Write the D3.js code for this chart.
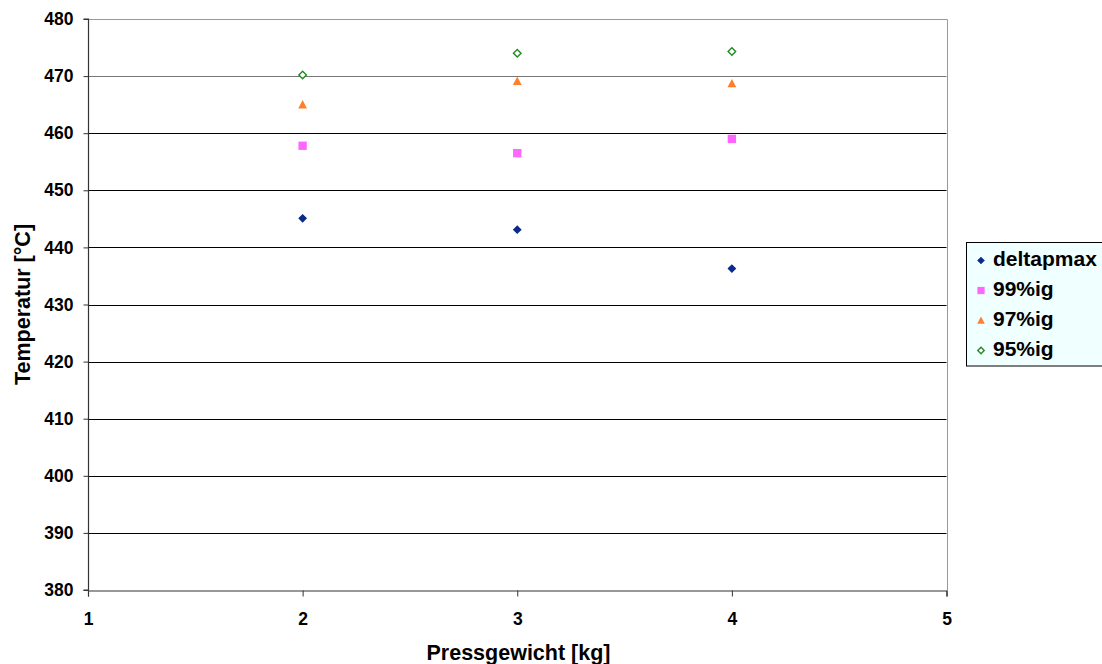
<!DOCTYPE html>
<html>
<head>
<meta charset="utf-8">
<script src="https://cdn.jsdelivr.net/npm/d3@7"></script>
<style>
  html, body { margin: 0; padding: 0; background: #fff; }
  text { font-family: "Liberation Sans", Arial, sans-serif; font-weight: bold; }
</style>
</head>
<body>
<svg id="chart" width="1102" height="664"></svg>
<script>
// Pressgewicht (kg) on the x axis
const pressgewicht = [2, 3, 4];

// Temperatures per criterion
const deltapmax = [445.1, 443.1, 436.3];
const ig99 = [457.8, 456.5, 459.0];
const ig97 = [465.0, 469.1, 468.7];
const ig95 = [470.2, 474.0, 474.3];

const seriesNames = ["deltapmax", "99%ig", "97%ig", "95%ig"];
const xTicks = [1, 2, 3, 4, 5];
const yTicks = [380, 390, 400, 410, 420, 430, 440, 450, 460, 470, 480];

const series = [
  { name: seriesNames[0], values: deltapmax, color: "#0a2a8c", shape: "diamond" },
  { name: seriesNames[1], values: ig99, color: "#ff66ff", shape: "square" },
  { name: seriesNames[2], values: ig97, color: "#ff7f2a", shape: "triangle" },
  { name: seriesNames[3], values: ig95, color: "#228b22", shape: "diamondOpen" }
];

const svg = d3.select("#chart");
const plot = { left: 88, right: 946.5, top: 19, bottom: 590 };

const x = d3.scaleLinear().domain([1, 5]).range([plot.left, plot.right]);
const y = d3.scaleLinear().domain([380, 480]).range([plot.bottom, plot.top]);

// Horizontal gridlines
svg.append("g").selectAll("line").data(yTicks.slice(1)).join("line")
  .attr("x1", plot.left).attr("x2", plot.right)
  .attr("y1", d => Math.round(y(d)) + 0.5).attr("y2", d => Math.round(y(d)) + 0.5)
  .attr("stroke", d => d >= 470 ? "#777" : "#000")
  .attr("stroke-width", 1);

// Top and right frame of the plot area
svg.append("path")
  .attr("d", `M${plot.left},${Math.round(plot.top) + 0.5}H${Math.round(plot.right) + 0.5}V${plot.bottom}`)
  .attr("fill", "none").attr("stroke", "#8c9ab4").attr("stroke-width", 1);

// Axes
const yAxis = d3.axisLeft(y).tickValues(yTicks).tickSize(5).tickPadding(10).tickFormat(d3.format("d"));
const xAxis = d3.axisBottom(x).tickValues(xTicks).tickSize(6).tickPadding(16).tickFormat(d3.format("d"));

const gy = svg.append("g").attr("transform", `translate(${plot.left + 0.5},0)`).call(yAxis);
const gx = svg.append("g").attr("transform", `translate(0,${plot.bottom + 0.5})`).call(xAxis);

[gx, gy].forEach(g => {
  g.attr("font-size", null).attr("font-family", null);
  g.select(".domain").attr("stroke", "#333").attr("stroke-width", 1.2);
  g.selectAll(".tick line").attr("stroke", "#333");
  g.selectAll(".tick text").attr("fill", "#000").style("font-size", "17.5px");
});
gy.select(".domain").attr("d", `M-5,${plot.bottom}H0V${plot.top}H-5`);

// Axis titles
svg.append("text")
  .attr("x", 518.5).attr("y", 660)
  .attr("text-anchor", "middle").style("font-size", "21.5px")
  .text("Pressgewicht [kg]");

svg.append("text")
  .attr("transform", `translate(30,${(plot.top + plot.bottom) / 2}) rotate(-90)`)
  .attr("text-anchor", "middle").style("font-size", "21.5px")
  .text("Temperatur [°C]");

// Marker drawing
function drawMarker(sel, s, size) {
  if (s.shape === "diamond") {
    sel.append("path").attr("d", `M0,${-size}L${size},0L0,${size}L${-size},0Z`).attr("fill", s.color);
  } else if (s.shape === "square") {
    const h = size * 0.95;
    sel.append("rect").attr("x", -h).attr("y", -h).attr("width", 2 * h).attr("height", 2 * h).attr("fill", s.color);
  } else if (s.shape === "triangle") {
    sel.append("path").attr("d", `M0,${-size * 1.05}L${size},${size * 0.85}L${-size},${size * 0.85}Z`).attr("fill", s.color);
  } else {
    const h = size - 0.6;
    sel.append("path").attr("d", `M0,${-h}L${h},0L0,${h}L${-h},0Z`)
      .attr("fill", "#fff").attr("stroke", s.color).attr("stroke-width", 1.4);
  }
}

// Data points
series.forEach(s => {
  const g = svg.append("g");
  s.values.forEach((v, i) => {
    const m = g.append("g").attr("transform", `translate(${x(pressgewicht[i])},${y(v)})`);
    drawMarker(m, s, 4.4);
  });
});

// Legend
const legend = svg.append("g");
legend.append("rect")
  .attr("x", 966.5).attr("y", 242.5).attr("width", 150).attr("height", 123.5)
  .attr("fill", "#f0ffff").attr("stroke", "#000").attr("stroke-width", 1);

series.forEach((s, i) => {
  const cy = 260.5 + i * 30;
  const m = legend.append("g").attr("transform", `translate(981,${cy})`);
  drawMarker(m, s, 3.8);
  legend.append("text")
    .attr("x", 993).attr("y", cy + 5.5)
    .style("font-size", "21px").text(s.name);
});
</script>
</body>
</html>
